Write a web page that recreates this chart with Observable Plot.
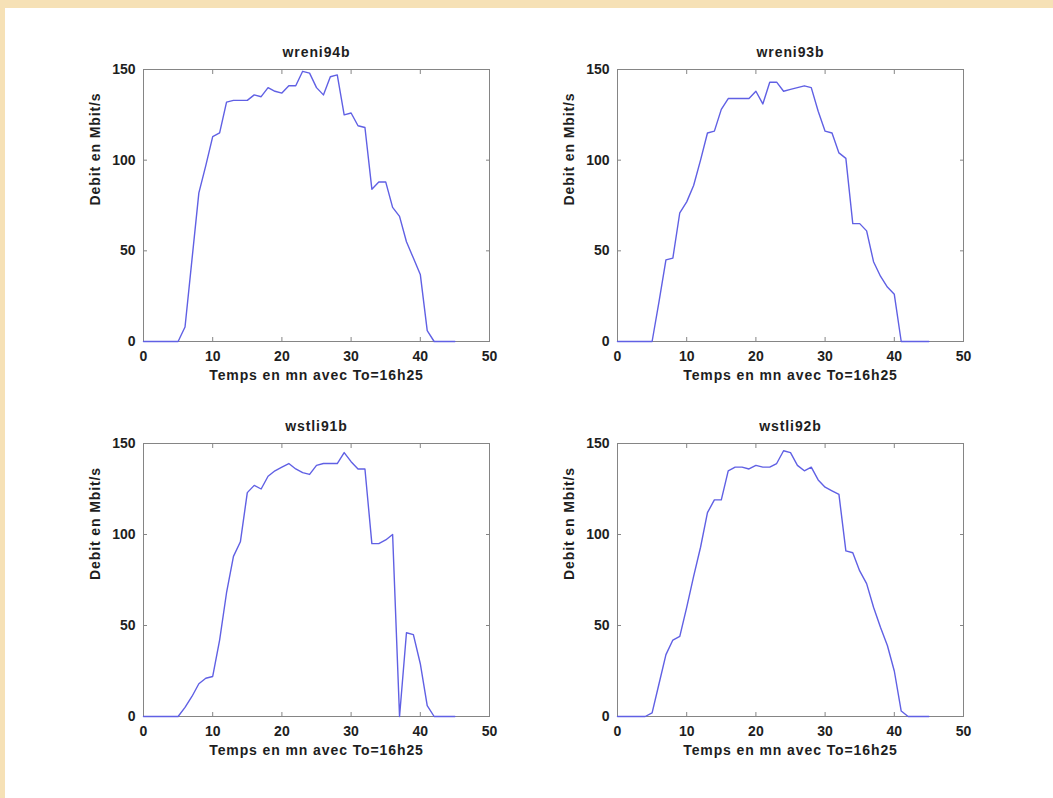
<!DOCTYPE html>
<html>
<head>
<meta charset="utf-8">
<script src="https://cdn.jsdelivr.net/npm/d3@7"></script>
<script src="https://cdn.jsdelivr.net/npm/@observablehq/plot@0.6"></script>
<style>
  html, body { margin: 0; padding: 0; background: #f6e1b6; width: 1053px; height: 798px; overflow: hidden; }
  #page { position: absolute; left: 5px; top: 8px; width: 1048px; height: 790px; background: #ffffff; }
  .panel { position: absolute; }
  .panel svg { overflow: visible; }
</style>
</head>
<body>
<div id="page"></div>
<script>
// ---- data ----
const minutes = [0,1,2,3,4,5,6,7,8,9,10,11,12,13,14,15,16,17,18,19,20,21,22,23,24,25,26,27,28,29,30,31,32,33,34,35,36,37,38,39,40,41,42,43,44,45];

const wreni94b = [0,0,0,0,0,0,8,45,82,97,113,115,132,133,133,133,136,135,140,138,137,141,141,149,148,140,136,146,147,125,126,119,118,84,88,88,74,69,55,46,37,6,0,0,0,0];
const wreni93b = [0,0,0,0,0,0,22,45,46,71,77,86,100,115,116,128,134,134,134,134,138,131,143,143,138,139,140,141,140,127,116,115,104,101,65,65,61,44,36,30,26,0,0,0,0,0];
const wstli91b = [0,0,0,0,0,0,5,11,18,21,22,42,68,88,96,123,127,125,132,135,137,139,136,134,133,138,139,139,139,145,140,136,136,95,95,97,100,0,46,45,29,6,0,0,0,0];
const wstli92b = [0,0,0,0,0,2,18,34,42,44,60,77,93,112,119,119,135,137,137,136,138,137,137,139,146,145,138,135,137,130,126,124,122,91,90,80,73,60,49,39,25,3,0,0,0,0];

const titles = ["wreni94b", "wreni93b", "wstli91b", "wstli92b"];
const seriesList = [wreni94b, wreni93b, wstli91b, wstli92b];
const xTicks = [0, 10, 20, 30, 40, 50];
const yTicks = [0, 50, 100, 150];
const xLabel = "Temps en mn avec To=16h25";
const yLabel = "Debit en Mbit/s";

// ---- layout (page pixels of each plot frame) ----
const frames = [
  {x0: 143, x1: 489, y0: 69, y1: 341},
  {x0: 617, x1: 963, y0: 69, y1: 341},
  {x0: 143, x1: 489, y0: 443, y1: 716},
  {x0: 617, x1: 963, y0: 443, y1: 716}
];
const mL = 70, mR = 20, mT = 40, mB = 50;
const pageOffX = 5, pageOffY = 8;
const lineColor = "#6060e4";
const axisColor = "#858585";
const textColor = "#1e1e1e";

const page = document.getElementById("page");

seriesList.forEach((values, i) => {
  const f = frames[i];
  const rows = minutes.map((t, j) => ({t, v: values[j]}));
  const chart = Plot.plot({
    width: (f.x1 - f.x0) + mL + mR,
    height: (f.y1 - f.y0) + mT + mB,
    marginLeft: mL, marginRight: mR, marginTop: mT, marginBottom: mB,
    style: {fontFamily: "'Liberation Sans', Arial, sans-serif", fontSize: "14px", fontWeight: "bold", color: textColor, background: "transparent"},
    x: {domain: [0, 50]},
    y: {domain: [0, 150]},
    marks: [
      Plot.frame({stroke: axisColor, strokeWidth: 1}),
      Plot.axisX({ticks: xTicks, tickSize: -4, tickPadding: 14, stroke: axisColor, fill: textColor, label: null}),
      Plot.axisX({anchor: "top", ticks: xTicks, tickSize: -4, tickFormat: () => "", stroke: axisColor, label: null}),
      Plot.axisY({ticks: yTicks, tickSize: -4, tickPadding: 12, stroke: axisColor, fill: textColor, label: null}),
      Plot.axisY({anchor: "right", ticks: yTicks, tickSize: -4, tickFormat: () => "", stroke: axisColor, label: null}),
      Plot.line(rows, {x: "t", y: "v", stroke: lineColor, strokeWidth: 1.4}),
      Plot.text([titles[i]], {frameAnchor: "top", dy: -22, fill: textColor, fontSize: 14}),
      Plot.text([xLabel], {frameAnchor: "bottom", dy: 38, fill: textColor, fontSize: 14}),
      Plot.text([yLabel], {frameAnchor: "left", dx: -48, rotate: -90, fill: textColor, fontSize: 14})
    ]
  });
  // slightly wider letter spacing on the titles / axis labels, as in the reference
  d3.select(chart).selectAll('g[aria-label="text"] text').attr("letter-spacing", "0.9px");
  const wrap = document.createElement("div");
  wrap.className = "panel";
  wrap.style.left = (f.x0 - mL - pageOffX) + "px";
  wrap.style.top = (f.y0 - mT - pageOffY) + "px";
  wrap.appendChild(chart);
  page.appendChild(wrap);
});
</script>
</body>
</html>
